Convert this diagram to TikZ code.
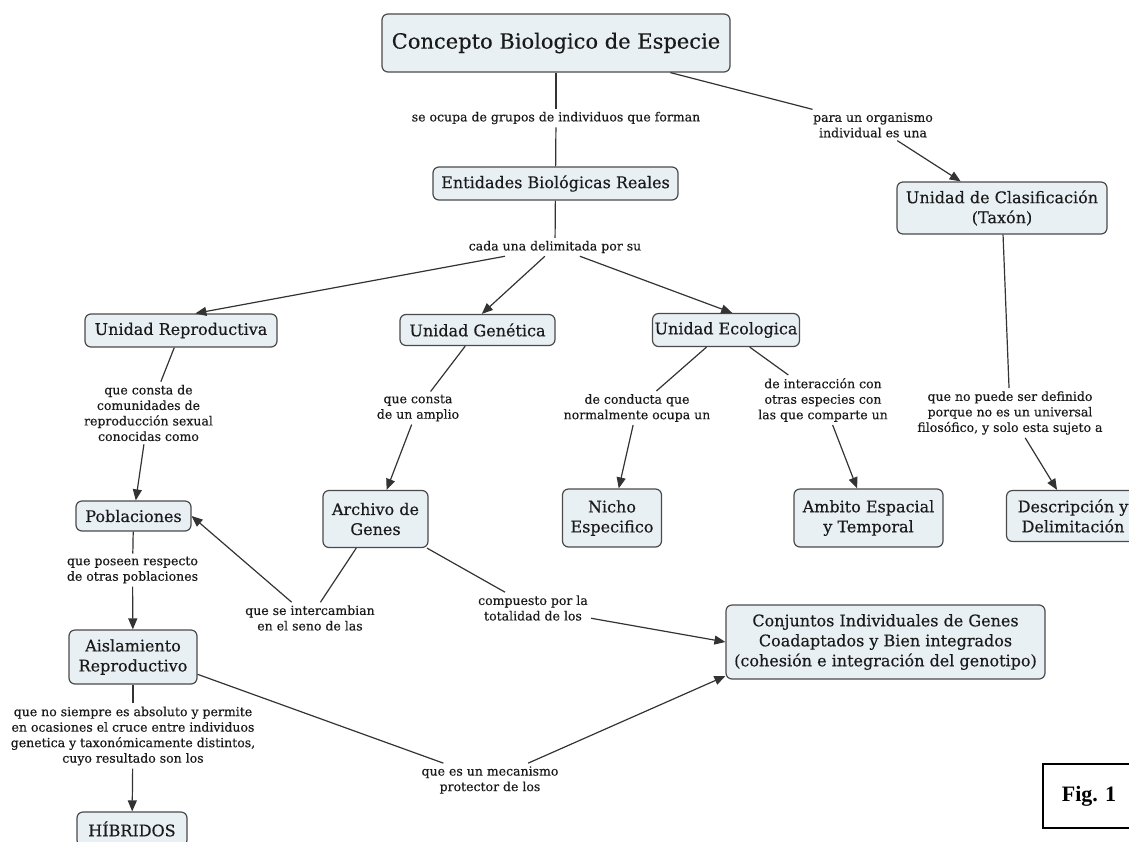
\documentclass[tikz,border=0pt]{standalone}
\usepackage{fontspec}
\setmainfont{DejaVu Serif}[FakeBold=0.35]
\newfontfamily\figfont{Liberation Serif}
\usetikzlibrary{arrows.meta}
\definecolor{boxfill}{HTML}{E8F0F4}
\definecolor{boxline}{HTML}{4A4A4A}
\definecolor{linkcol}{HTML}{333333}
\definecolor{txt}{HTML}{1A1A1A}
\tikzset{
  cbox/.style={draw=boxline, fill=boxfill, rounded corners=6pt, line width=1.2pt,
    align=center, inner sep=2pt, text=txt, font=\fontsize{16}{20}\selectfont},
  lphrase/.style={align=center, inner sep=3pt, text=txt, font=\fontsize{12.5}{15.5}\selectfont},
  conn/.style={draw=linkcol, line width=1.2pt},
  conna/.style={conn, -{Triangle[length=11pt,width=9pt]}},
}
\begin{document}
\begin{tikzpicture}[x=1pt,y=-1pt]
\useasboundingbox (0,0) rectangle (1129,841);

% concepts
\node[cbox, minimum width=348pt, minimum height=58pt, font=\fontsize{21}{25}\selectfont] (cbe) at (556,43) {Concepto Biologico de Especie};
\node[cbox, minimum width=245pt, minimum height=33pt] (ent) at (555.5,183.5) {Entidades Biológicas Reales};
\node[cbox, minimum width=210pt, minimum height=52pt] (tax) at (1002,208) {Unidad de Clasificación\\(Taxón)};
\node[cbox, minimum width=192pt, minimum height=33pt] (urep) at (181,330.5) {Unidad Reproductiva};
\node[cbox, minimum width=155pt, minimum height=31pt] (ugen) at (477.5,330) {Unidad Genética};
\node[cbox, minimum width=138pt, minimum height=33pt] (ueco) at (726,330) {Unidad Ecologica};
\node[cbox, minimum width=115pt, minimum height=30pt] (pob) at (133.5,516) {Poblaciones};
\node[cbox, minimum width=128pt, minimum height=54pt] (ais) at (133,657) {Aislamiento\\Reproductivo};
\node[cbox, minimum width=110pt, minimum height=34pt] (hib) at (132,829) {HÍBRIDOS};
\node[cbox, minimum width=105pt, minimum height=57pt] (arch) at (375.5,519) {Archivo de\\Genes};
\node[cbox, minimum width=99pt, minimum height=58pt] (nicho) at (612,518) {Nicho\\Especifico};
\node[cbox, minimum width=149pt, minimum height=58pt] (amb) at (868.5,518) {Ambito Espacial\\y Temporal};
\node[cbox, minimum width=133pt, minimum height=51pt] (desc) at (1073,516) {Descripción y\\Delimitación};
\node[cbox, minimum width=319pt, minimum height=74pt] (conj) at (885.5,642) {Conjuntos Individuales de Genes\\Coadaptados y Bien integrados\\(cohesión e integración del genotipo)};

% linking phrases
\node[lphrase] (l1) at (556,118) {se ocupa de grupos de individuos que forman};
\node[lphrase] (l2) at (873,125) {para un organismo\\individual es una};
\node[lphrase] (l3) at (555,247) {cada una delimitada por su};
\node[lphrase] (l4) at (148.5,413) {que consta de\\comunidades de\\reproducción sexual\\conocidas como};
\node[lphrase] (l5) at (132.5,570) {que poseen respecto\\de otras poblaciones};
\node[lphrase] (l6) at (133,736) {que no siempre es absoluto y permite\\en ocasiones el cruce entre individuos\\genetica y taxonómicamente distintos,\\cuyo resultado son los};
\node[lphrase] (l7) at (490,780) {que es un mecanismo\\protector de los};
\node[lphrase] (l8) at (310,618) {que se intercambian\\en el seno de las};
\node[lphrase] (l9) at (533,608) {compuesto por la\\totalidad de los};
\node[lphrase] (l10) at (418,408) {que consta\\de un amplio};
\node[lphrase] (l11) at (637,408) {de conducta que\\normalmente ocupa un};
\node[lphrase] (l12) at (823,400) {de interacción con\\otras especies con\\las que comparte un};
\node[lphrase] (l13) at (1010,413) {que no puede ser definido\\porque no es un universal\\filosófico, y solo esta sujeto a};

% connectors
\draw[conn] (cbe) -- (l1);
\draw[conn] (l1) -- (ent);
\draw[conn] (cbe) -- (l2);
\draw[conna] (l2) -- (tax);
\draw[conn] (ent) -- (l3);
\draw[conna] (l3) -- (urep.50);
\draw[conna] (l3) -- (ugen.75);
\draw[conna] (l3) -- (ueco.70);
\draw[conn] (urep) -- (l4);
\draw[conna] (l4) -- (pob);
\draw[conn] (pob) -- (l5);
\draw[conna] (l5) -- (ais);
\draw[conn] (ais) -- (l6);
\draw[conna] (l6) -- (hib);
\draw[conn] (ais.-15) -- (l7);
\draw[conna] (l7) -- (conj.192);
\draw[conn] (arch) -- (l8);
\draw[conna] (l8) -- (pob.east);
\draw[conn] (arch) -- (l9);
\draw[conna] (l9) -- (conj.west);
\draw[conn] (ugen) -- (l10);
\draw[conna] (l10) -- (arch);
\draw[conn] (ueco) -- (l11);
\draw[conna] (l11) -- (nicho);
\draw[conn] (ueco) -- (l12);
\draw[conna] (l12) -- (amb);
\draw[conn] (tax) -- (l13);
\draw[conna] (l13) -- (desc);

% figure tag
\node[draw=black, line width=1.6pt, minimum width=92pt, minimum height=64pt, font=\figfont\bfseries\fontsize{22}{26}\selectfont] (fig) at (1089,796) {Fig. 1};
\end{tikzpicture}
\end{document}
